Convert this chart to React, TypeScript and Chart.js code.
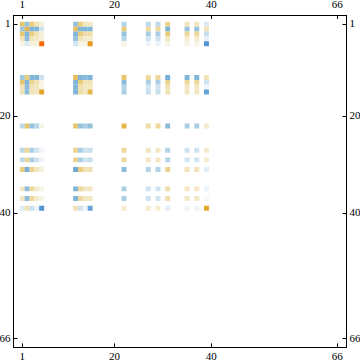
import React, { useEffect, useRef } from "react";
import { Chart, registerables } from "chart.js";

Chart.register(...registerables);

const tickValues = [1, 20, 40, 66];
const colIndex = [1, 2, 3, 4, 5, 12, 13, 14, 15, 22, 27, 29, 31, 35, 37, 39];
const rowIndex = [1, 2, 3, 4, 5, 12, 13, 14, 15, 22, 27, 29, 31, 35, 37, 39];

const row1 = [6, -5, 5.5, 3.5, 2, -5, 5.5, 3, 3, -3.5, -3, -3, 5, 3, 3, -1.5];
const row2 = [-4.5, 7, -6, -6, -2, 6.5, -6, -6, -6, 5.5, 4.5, 4.5, -6, -5, -5, 3.5];
const row3 = [6, -6, 5.5, 3.5, 2, -6, 5.5, 4, 4, -5, -4, -4, 5.5, 4.5, 4.5, -2.5];
const row4 = [3.5, -5.5, 3.5, 3, 2, -5, 3.5, 2.5, 2.5, -3.5, -2, -2, 3, 2.5, 2.5, -1];
const row5 = [1.5, -1.5, 2, 2, 10, -2, 1.5, 1.5, 8.5, 1.5, -0.7, -0.7, 1.5, 1.5, 1.5, -9];
const row12 = [-4.5, 5.5, -6, -6, -2, 6.5, -6, -5.5, -6, 6, 4.5, 4.5, -6.5, -6, -6, 3.5];
const row13 = [6, -6, 5, 3.5, 1.5, -6, 5.5, 3.5, 3.5, -5.5, -4, -4, 5, 4.5, 4.5, -2];
const row14 = [3.5, -5.5, 3.5, 3, 1.5, -6, 4, 3, 3, -3.5, -2, -2, 3.5, 3, 3, -0.7];
const row15 = [3.5, -5.5, 3.5, 3, 8, -6, 4, 3, 7, -4, -2.5, -2.5, 3.5, 3, 3, -7.5];
const row22 = [-3, 6, -5, -3.5, 1.5, 6, -5, -4, -5, 7, 4, 4.5, -5.5, -4, -4, 2.5];
const row27 = [-3, 4.5, -4, -2, -0.7, 5, -4, -2, -2.5, 4.5, 3, 3, -3.5, -2, -2, 2.5];
const row29 = [-3, 4.5, -4, -2, -0.7, 5, -4, -2, -2.5, 4.5, 3, 3, -3.5, -2, -2, 2.5];
const row31 = [5.5, -6.5, 5, 3, 2, -7, 5.5, 3.5, 3.5, -5.5, -3.5, -3.5, 5, 3.5, 3.5, -1.2];
const row35 = [3, -5.5, 4.5, 2.5, 1.5, -6, 4.5, 3, 3, -4, -2, -2, 4, 3, 3, -0.8];
const row37 = [3, -5.5, 4.5, 2.5, 1.5, -6, 4.5, 3, 3, -4, -2, -2, 4, 3, 3, -0.6];
const row39 = [-1.3, 3.5, -2.2, -0.8, -9, 3.5, -2, -0.7, -7.5, 2.5, 2.5, 2.5, -1.2, -0.7, -0.7, 8];

const rows = [row1, row2, row3, row4, row5, row12, row13, row14, row15, row22, row27, row29, row31, row35, row37, row39];

const stops: [number, number[]][] = [
  [-10, [70, 140, 210]],
  [-8, [90, 155, 215]],
  [-6, [128, 182, 216]],
  [-4, [170, 207, 228]],
  [-2, [208, 227, 240]],
  [0, [255, 255, 255]],
  [2, [245, 240, 218]],
  [4, [240, 222, 170]],
  [6, [232, 198, 110]],
  [8, [225, 165, 40]],
  [9, [235, 140, 20]],
  [10, [255, 105, 0]],
];

function colorOf(v: number): string {
  for (let i = 1; i < stops.length; i++) {
    const [a, ca] = stops[i - 1];
    const [b, cb] = stops[i];
    if (v <= b) {
      const t = (v - a) / (b - a);
      const c = ca.map((x, k) => Math.round(x + (cb[k] - x) * t));
      return `rgb(${c[0]},${c[1]},${c[2]})`;
    }
  }
  return "rgb(255,105,0)";
}

export default function App() {
  const ref = useRef<HTMLCanvasElement>(null);
  useEffect(() => {
    document.body.style.margin = "0";
    const canvas = ref.current!;
    canvas.getContext("2d", { alpha: false });
    const points: { x: number; y: number; v: number }[] = [];
    rows.forEach((r, i) =>
      r.forEach((v, j) => points.push({ x: colIndex[j], y: rowIndex[i], v }))
    );
    const setTicks = (s: any) => {
      s.ticks = tickValues.map((value) => ({ value, label: String(value) }));
    };
    const fitH = (h: number) => (s: any) => {
      s.height = h;
    };
    const fitW = (w: number) => (s: any) => {
      s.width = w;
    };
    const font = { family: "'Liberation Serif'", size: 11 };
    const axisBase = (padding: number) => ({
      grid: { drawOnChartArea: false, drawTicks: true, tickLength: -4, color: "#000", lineWidth: 1 },
      border: { display: true, color: "#000", width: 1 },
      ticks: {
        autoSkip: false,
        maxRotation: 0,
        minRotation: 0,
        color: "#000",
        font,
        padding,
      },
      afterBuildTicks: setTicks,
    });
    const xr = { min: -0.816, max: 67.9 };
    const yr = { min: -0.92, max: 67.74 };
    const chart = new Chart(canvas, {
      type: "scatter",
      data: {
        datasets: [
          {
            data: points,
            pointStyle: "rect",
            pointRadius: 3.5,
            pointHoverRadius: 3.5,
            borderWidth: 0,
            pointBorderWidth: 0,
            backgroundColor: (ctx: any) => colorOf(ctx.raw ? ctx.raw.v : 0),
            pointBackgroundColor: (ctx: any) => colorOf(ctx.raw ? ctx.raw.v : 0),
          } as any,
        ],
      },
      plugins: [
        {
          id: "bg",
          beforeDraw(c: any) {
            c.ctx.save();
            c.ctx.fillStyle = "#fff";
            c.ctx.fillRect(0, 0, c.width, c.height);
            c.ctx.restore();
          },
        },
      ],
      options: {
        animation: false,
        responsive: false,
        events: [],
        layout: { padding: 0 },
        plugins: { legend: { display: false }, tooltip: { enabled: false }, title: { display: false } },
        scales: {
          x: { type: "linear", position: "bottom", ...xr, ...axisBase(7), afterFit: fitH(15.6) } as any,
          x2: { type: "linear", position: "top", ...xr, ...axisBase(7), afterFit: fitH(15) } as any,
          y: { type: "linear", position: "left", reverse: true, ...yr, ...axisBase(7), afterFit: fitW(13.5) } as any,
          y2: { type: "linear", position: "right", reverse: true, ...yr, ...axisBase(7), afterFit: fitW(13.5) } as any,
        },
      },
    });
    return () => chart.destroy();
  }, []);
  return <canvas ref={ref} width={360} height={363} style={{ display: "block" }} />;
}
